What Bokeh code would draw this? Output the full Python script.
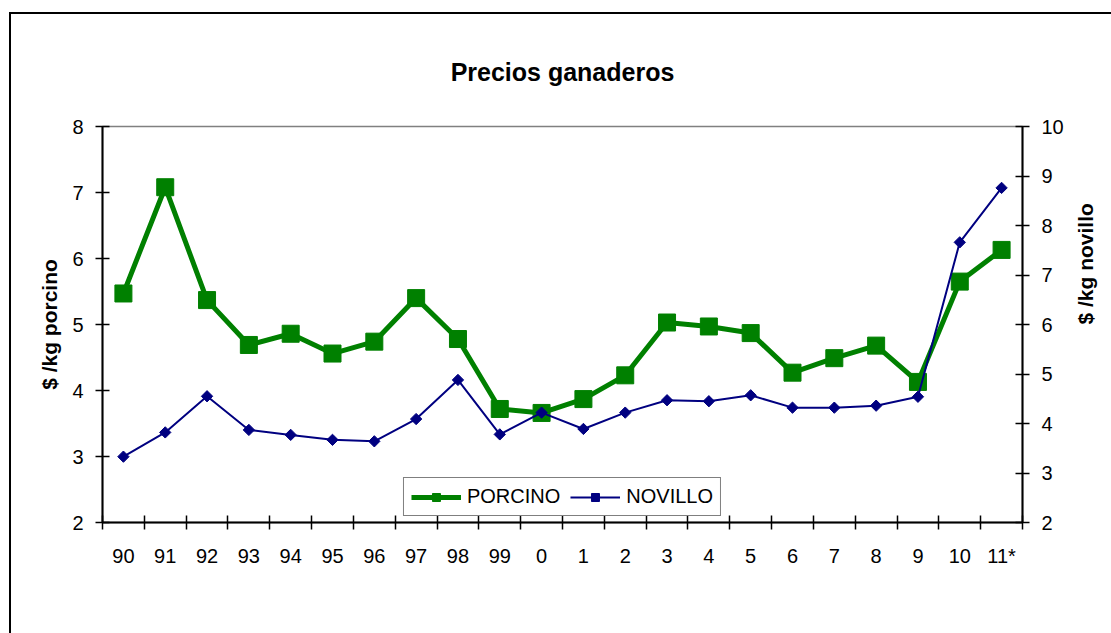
import math
from bokeh.plotting import figure
from bokeh.models import (Range1d, LinearAxis, FixedTicker, Legend, LegendItem,
                          ColumnDataSource)
from bokeh.embed import file_html
from bokeh.resources import INLINE

# ---- data ----
years = ["90", "91", "92", "93", "94", "95", "96", "97", "98", "99", "0",
         "1", "2", "3", "4", "5", "6", "7", "8", "9", "10", "11*"]
porcino = [5.47, 7.08, 5.37, 4.69, 4.86, 4.56, 4.74, 5.40, 4.78, 3.72, 3.66,
           3.87, 4.23, 5.03, 4.97, 4.87, 4.27, 4.49, 4.68, 4.13, 5.65, 6.13]
novillo = [3.33, 3.82, 4.55, 3.87, 3.77, 3.67, 3.64, 4.09, 4.88, 3.78, 4.22,
           3.89, 4.22, 4.47, 4.45, 4.57, 4.32, 4.32, 4.36, 4.54, 7.66, 8.76]
left_ticks = [2, 3, 4, 5, 6, 7, 8]
right_ticks = [2, 3, 4, 5, 6, 7, 8, 9, 10]

FONT = "Liberation Sans"
GREEN = "#008000"
NAVY = "#000080"

xs = list(range(len(years)))
n = len(years)

# canvas shifted by CSS margin + border (outer chart frame)
OFF_X, OFF_Y = 11, 14

p = figure(width=1111 - OFF_X, height=633 - OFF_Y, frame_width=920, frame_height=396,
           output_backend="svg", toolbar_location=None,
           x_range=Range1d(-0.5, n - 0.5), y_range=Range1d(2, 8),
           min_border_left=102 - OFF_X, min_border_right=89,
           min_border_top=124 - OFF_Y, min_border_bottom=113)
p.styles = {"margin-left": "9px", "margin-top": "12px",
            "border-left": "2px solid black", "border-top": "2px solid black"}
p.extra_y_ranges = {"right": Range1d(2, 10)}
p.xgrid.visible = False
p.ygrid.visible = False
p.outline_line_color = "#808080"
p.outline_line_width = 1.5
p.background_fill_color = "white"
p.border_fill_color = "white"

# title
p.title.text = "Precios ganaderos"
p.title.align = "center"
p.title.text_font = FONT
p.title.text_font_size = "25px"
p.title.text_font_style = "bold"
p.title.text_color = "black"
try:
    p.title.standoff = 82
except Exception:
    pass

# x axis: labels at category centres, crossing ticks at boundaries
xa = p.xaxis[0]
xa.ticker = FixedTicker(ticks=xs, minor_ticks=[i - 0.5 for i in range(n + 1)])
xa.major_label_overrides = {i: years[i] for i in xs}
xa.major_tick_in = 0
xa.major_tick_out = 0
xa.minor_tick_in = 7
xa.minor_tick_out = 7
xa.minor_tick_line_color = "black"
xa.minor_tick_line_width = 1.5
xa.axis_line_width = 2
xa.axis_line_color = "black"
xa.major_label_standoff = 15
xa.major_label_text_font = FONT
xa.major_label_text_font_size = "20px"
xa.major_label_text_color = "black"

ya = p.yaxis[0]
ya.ticker = FixedTicker(ticks=left_ticks)
ya.major_tick_in = 7
ya.major_tick_out = 7
ya.minor_tick_in = 0
ya.minor_tick_out = 0
ya.major_tick_line_width = 1.5
ya.axis_line_width = 2
ya.major_label_standoff = 12
ya.major_label_text_font = FONT
ya.major_label_text_font_size = "20px"
ya.major_label_text_color = "black"
ya.axis_label = "$ /kg porcino"
ya.axis_label_text_font = FONT
ya.axis_label_text_font_size = "21px"
ya.axis_label_text_font_style = "bold"
ya.axis_label_text_color = "black"
ya.axis_label_standoff = 8

ra = LinearAxis(y_range_name="right", ticker=FixedTicker(ticks=right_ticks))
ra.major_tick_in = 7
ra.major_tick_out = 7
ra.minor_tick_in = 0
ra.minor_tick_out = 0
ra.major_tick_line_width = 1.5
ra.axis_line_width = 2
ra.major_label_standoff = 12
ra.major_label_text_font = FONT
ra.major_label_text_font_size = "20px"
ra.major_label_text_color = "black"
ra.axis_label = "$ /kg novillo"
ra.axis_label_text_font = FONT
ra.axis_label_text_font_size = "21px"
ra.axis_label_text_font_style = "bold"
ra.axis_label_text_color = "black"
ra.axis_label_standoff = 19
try:
    ra.axis_label_orientation = math.pi / 2
except Exception:
    pass
p.add_layout(ra, "right")

src = ColumnDataSource(dict(x=xs, porcino=porcino, novillo=novillo))

l1 = p.line("x", "porcino", source=src, line_color=GREEN, line_width=5)
m1 = p.scatter("x", "porcino", source=src, marker="square", size=17,
               fill_color=GREEN, line_color=GREEN)
l2 = p.line("x", "novillo", source=src, line_color=NAVY, line_width=2, y_range_name="right")
m2 = p.scatter("x", "novillo", source=src, marker="square", size=8, angle=math.pi / 4,
               fill_color=NAVY, line_color=NAVY, y_range_name="right")

legend = Legend(items=[LegendItem(label="PORCINO", renderers=[l1, m1]),
                       LegendItem(label="NOVILLO", renderers=[l2, m2])],
                orientation="horizontal", location="bottom_center",
                border_line_color="black", border_line_width=1.5,
                background_fill_color="white", background_fill_alpha=1,
                label_text_font=FONT, label_text_font_size="20px",
                label_text_color="black", glyph_width=50, glyph_height=20,
                label_standoff=6, spacing=10, padding=7, margin=6)
p.add_layout(legend)

open("out.html", "w").write(file_html(p, INLINE))
